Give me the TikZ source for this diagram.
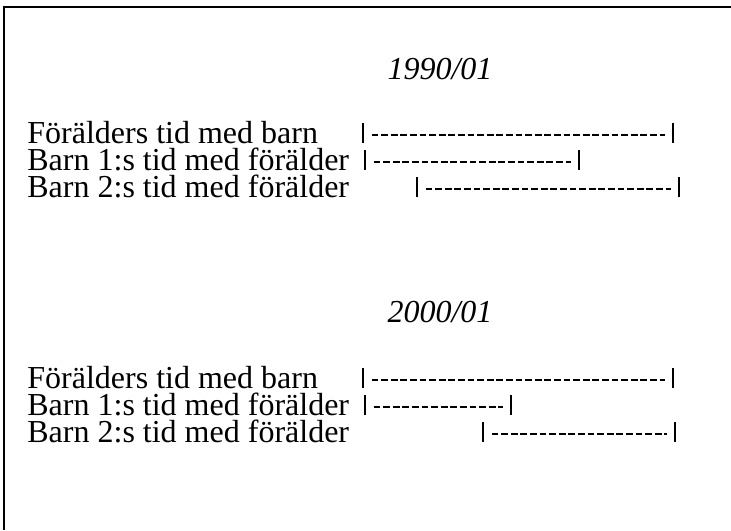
\documentclass[tikz,border=0pt]{standalone}
\usepackage{fontspec}
\setmainfont{Liberation Serif}

\tikzset{
  rowtext/.style={anchor=base west, inner sep=0, text height=10.5pt, text depth=2pt, font=\fontsize{16}{17}\selectfont},
  yeartext/.style={anchor=base, inner sep=0, font=\fontsize{16}{17}\selectfont\itshape},
  bar/.style={fill=black, inner sep=0, minimum width=1.1pt, minimum height=10pt, anchor=south},
  run/.style={line width=1pt, dash pattern=on 3.4pt off 1.4pt, shorten <=3.5pt, shorten >=3.5pt},
}

\NewDocumentCommand{\timerow}{mmmmm}{%
\node[rowtext] (#1t) at (27,#2) {#5};
\node[bar] (#1a) at (#3,#2) {};
\node[bar] (#1b) at (#4,#2) {};
\draw[run] ([yshift=-1pt]#1a.east) -- ([yshift=-1pt]#1b.west);
}

\begin{document}
\begin{tikzpicture}[x=0.5pt, y=-0.5pt]
        \useasboundingbox (0,0) rectangle (731,530);
        \draw[line width=1.2pt] (4,530) -- (4,7) -- (731,7);

        % 1990/01.
        \node[yeartext] (y1) at (440,79) {1990/01};
        \timerow{p1}{143}{363}{673}{Förälders tid med barn}
        \timerow{c1}{170}{365}{579}{Barn 1:s tid med förälder}
        \timerow{d1}{197}{417}{679}{Barn 2:s tid med förälder}

        % 2000/01.
        \node[yeartext] (y2) at (440,322) {2000/01};
        \timerow{p2}{388}{363}{673}{Förälders tid med barn}
        \timerow{c2}{415}{365}{511}{Barn 1:s tid med förälder}
        \timerow{d2}{442}{483}{675}{Barn 2:s tid med förälder}
    \end{tikzpicture}
\end{document}
